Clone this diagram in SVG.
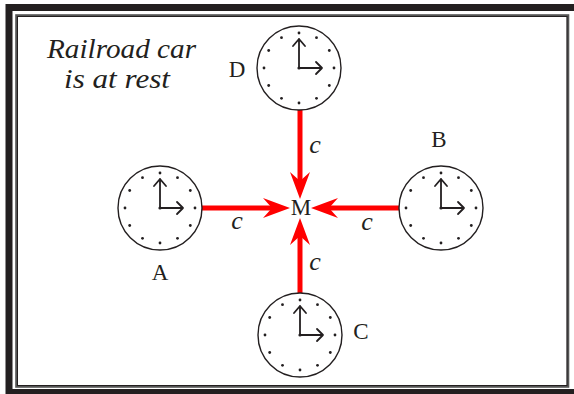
<svg xmlns="http://www.w3.org/2000/svg" xmlns:xlink="http://www.w3.org/1999/xlink" width="574" height="394" viewBox="0 0 574 394">
<style>
.lbl{font-family:"Liberation Serif","DejaVu Serif",serif;font-size:23px;fill:#231f20;text-anchor:middle}
.it{font-family:"Liberation Serif","DejaVu Serif",serif;font-style:italic;fill:#231f20}
.c{font-size:26px;text-anchor:middle}
.ray{stroke:#ff0000;stroke-width:5;fill:none}
.head{fill:#ff0000}
.face{fill:#fff;stroke:#231f20;stroke-width:1.4}
.hand{fill:none;stroke:#231f20;stroke-width:1.8;stroke-linecap:round;stroke-linejoin:round}
.dot{fill:#231f20}
</style>
<defs>
<g id="clock">
<circle class="face" cx="0" cy="0" r="42"/>
<circle class="dot" cx="0" cy="-35" r="1.4"/>
<circle class="dot" cx="17.5" cy="-30.31" r="1.4"/>
<circle class="dot" cx="30.31" cy="-17.5" r="1.4"/>
<circle class="dot" cx="35" cy="0" r="1.4"/>
<circle class="dot" cx="30.31" cy="17.5" r="1.4"/>
<circle class="dot" cx="17.5" cy="30.31" r="1.4"/>
<circle class="dot" cx="0" cy="35" r="1.4"/>
<circle class="dot" cx="-17.5" cy="30.31" r="1.4"/>
<circle class="dot" cx="-30.31" cy="17.5" r="1.4"/>
<circle class="dot" cx="-35" cy="0" r="1.4"/>
<circle class="dot" cx="-30.31" cy="-17.5" r="1.4"/>
<circle class="dot" cx="-17.5" cy="-30.31" r="1.4"/>
<path class="hand" d="M0,-29 V0 H23 M-6,-22 L0,-29 L6,-22 M17,-6 L23,0 L17,6"/>
<circle class="dot" cx="0" cy="0" r="1.6"/>
</g>
</defs>
<rect width="574" height="394" fill="#fff"/>
<g id="frame">
<rect x="9" y="7.5" width="574" height="385" fill="none" stroke="#231f20" stroke-width="7"/>
<rect x="16.5" y="15.5" width="551.5" height="371" fill="none" stroke="#555" stroke-width="2.6"/>
<rect x="17.5" y="16.5" width="549.5" height="369" fill="none" stroke="#231f20" stroke-width="1"/>
</g>
<g id="caption">
<text class="it" font-size="27" x="47" y="58" textLength="149" lengthAdjust="spacingAndGlyphs">Railroad car</text>
<text class="it" font-size="27" x="64" y="88" textLength="106" lengthAdjust="spacingAndGlyphs">is at rest</text>
</g>
<g id="connectors">
<line class="ray" x1="201" y1="208" x2="276" y2="208"/>
<polygon class="head" points="290,208 263,198 272,208 263,218"/>
<line class="ray" x1="399" y1="208" x2="324" y2="208"/>
<polygon class="head" points="311,208 338,198 329,208 338,218"/>
<line class="ray" x1="300" y1="110" x2="300" y2="186"/>
<polygon class="head" points="300,199 290,172 300,181 310,172"/>
<line class="ray" x1="300" y1="293" x2="300" y2="232"/>
<polygon class="head" points="300,218 290,245 300,236 310,245"/>
<text class="it c" x="237" y="229">c</text>
<text class="it c" x="367" y="230">c</text>
<text class="it c" x="315" y="153">c</text>
<text class="it c" x="315" y="270">c</text>
</g>
<g id="M"><text class="lbl" x="301" y="215">M</text></g>
<g id="A"><use xlink:href="#clock" x="160" y="208"/><text class="lbl" x="160" y="280">A</text></g>
<g id="B"><use xlink:href="#clock" x="441" y="208"/><text class="lbl" x="439" y="147">B</text></g>
<g id="C"><use xlink:href="#clock" x="300" y="335"/><text class="lbl" x="361" y="339">C</text></g>
<g id="D"><use xlink:href="#clock" x="299" y="68"/><text class="lbl" x="237" y="77">D</text></g>
</svg>
